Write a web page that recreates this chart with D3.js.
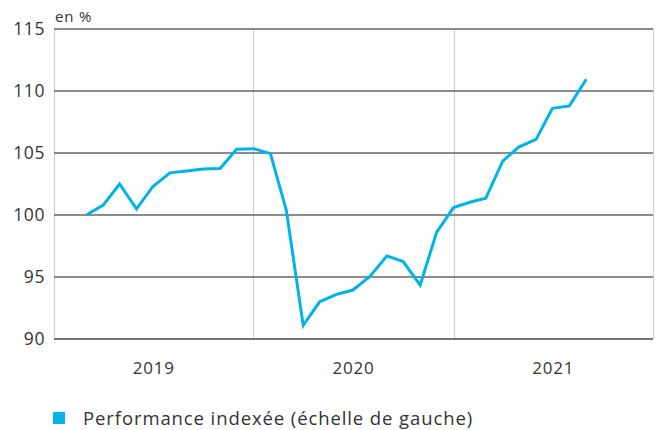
<!DOCTYPE html>
<html><head><meta charset="utf-8">
<script src="https://cdn.jsdelivr.net/npm/d3@7"></script>
<style>body{margin:0;background:#fff}</style>
</head><body><svg id="c" width="657" height="430"></svg>
<script>
const months = ["2019-03","2019-04","2019-05","2019-06","2019-07","2019-08","2019-09","2019-10","2019-11","2019-12",
"2020-01","2020-02","2020-03","2020-04","2020-05","2020-06","2020-07","2020-08","2020-09","2020-10","2020-11","2020-12",
"2021-01","2021-02","2021-03","2021-04","2021-05","2021-06","2021-07","2021-08","2021-09"];
const values = [100.0,100.8,102.5,100.5,102.3,103.4,103.55,103.7,103.75,105.3,
105.35,104.95,100.4,91.1,93.0,93.6,93.95,95.05,96.7,96.25,94.35,98.6,
100.6,101.05,101.35,104.35,105.5,106.1,108.6,108.8,110.95];
const yTicks = [90,95,100,105,110,115];
const years = ["2019","2020","2021"];
const yearBounds = ["2019-01","2020-01","2021-01","2022-01"];
const legendLabel = "Performance indexée (échelle de gauche)";
const unitLabel = "en %";

const font = "'Open Sans', 'Noto Sans', sans-serif";
const parse = d3.timeParse("%Y-%m");
const svg = d3.select("#c");
const L = 54, R = 653, T = 29, B = 339;
const x = d3.scaleTime().domain([parse(yearBounds[0]), parse(yearBounds[3])]).range([L, R]);
const y = d3.scaleLinear().domain([90,115]).range([B, T]);

// vertical light lines (left axis, year dividers, right border)
svg.append("g").selectAll("line").data(yearBounds).join("line")
  .attr("x1", d => Math.round(x(parse(d)))+0.5).attr("x2", d => Math.round(x(parse(d)))+0.5)
  .attr("y1", T).attr("y2", B)
  .attr("stroke", "#d0d0d0").attr("stroke-width", 1.2);

// horizontal gridlines
svg.append("g").selectAll("line").data(yTicks).join("line")
  .attr("x1", L).attr("x2", R)
  .attr("y1", d => y(d)).attr("y2", d => y(d))
  .attr("stroke", d => d === 90 ? "#444" : "#666").attr("stroke-width", d => d === 90 ? 1.6 : 1.4);

// y tick labels
svg.append("g").selectAll("text").data(yTicks).join("text")
  .attr("x", 45).attr("y", d => y(d)).attr("dy", "0.36em")
  .attr("text-anchor", "end").attr("font-family", font).attr("font-size", 17.5)
  .attr("letter-spacing", 0.6)
  .attr("fill", "#333").text(d => d);

svg.append("text").attr("x", 55).attr("y", 22).attr("font-family", font)
  .attr("font-size", 15).attr("letter-spacing", 0.8).attr("fill", "#333").text(unitLabel);

// year labels
svg.append("g").selectAll("text").data(years).join("text")
  .attr("x", (d,i) => (x(parse(yearBounds[i])) + x(parse(yearBounds[i+1])))/2)
  .attr("y", 374).attr("text-anchor", "middle").attr("font-family", font)
  .attr("font-size", 17).attr("letter-spacing", 0.8).attr("fill", "#333").text(d => d);

// line
const data = months.map((m,i) => ({d: parse(m), v: values[i]}));
svg.append("path").datum(data)
  .attr("fill", "none").attr("stroke", "#00b4ea").attr("stroke-width", 3)
  .attr("stroke-linejoin", "miter")
  .attr("d", d3.line().x(d => x(d.d)).y(d => y(d.v)));

// legend
svg.append("rect").attr("x", 53).attr("y", 412).attr("width", 12).attr("height", 12).attr("fill", "#00b4ea");
svg.append("text").attr("x", 83).attr("y", 418).attr("dy", "0.36em").attr("font-family", font)
  .attr("font-size", 18.5).attr("letter-spacing", 0.9).attr("fill", "#333").text(legendLabel);
</script></body></html>
